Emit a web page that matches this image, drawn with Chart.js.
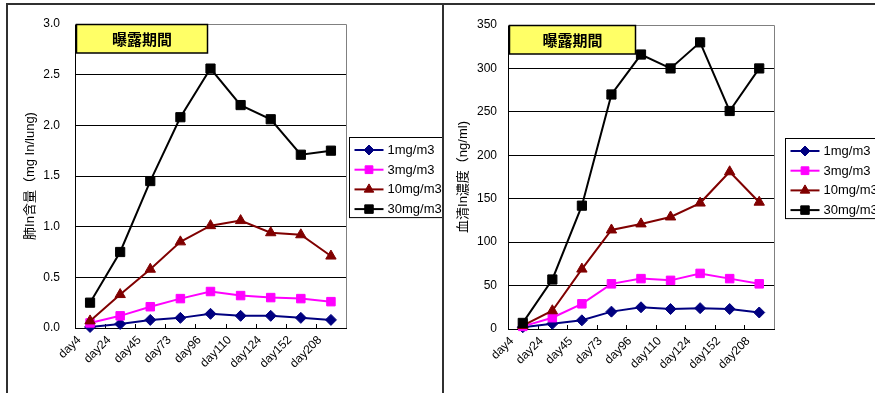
<!DOCTYPE html>
<html>
<head>
<meta charset="utf-8">
<script src="https://cdn.jsdelivr.net/npm/chart.js@4.4.1/dist/chart.umd.min.js"></script>
<style>
  html, body { margin: 0; padding: 0; background: #fff; }
  body { width: 875px; height: 393px; position: relative; overflow: hidden; }
  canvas { position: absolute; top: 0; }
  #lung { left: 0; }
  #serum { left: 443px; }
  .rule { position: absolute; background: #303030; }
</style>
</head>
<body>
<canvas id="lung" width="443" height="393"></canvas>
<canvas id="serum" width="432" height="393"></canvas>
<div class="rule" style="left:6px;top:3px;width:869px;height:2px"></div>
<div class="rule" style="left:6px;top:3px;width:2px;height:390px"></div>
<div class="rule" style="left:442px;top:3px;width:2px;height:390px"></div>

<script>
// Sampling days and exposure groups
const DAYS = ['day4', 'day24', 'day45', 'day73', 'day96', 'day110', 'day124', 'day152', 'day208'];
const GROUPS = ['1mg/m3', '3mg/m3', '10mg/m3', '30mg/m3'];

// Indium content in lung (mg In/lung)
const LUNG_1MG  = [0.01, 0.04, 0.08, 0.10, 0.14, 0.12, 0.12, 0.10, 0.08];
const LUNG_3MG  = [0.05, 0.12, 0.21, 0.29, 0.36, 0.32, 0.30, 0.29, 0.26];
const LUNG_10MG = [0.07, 0.33, 0.58, 0.85, 1.01, 1.06, 0.94, 0.92, 0.71];
const LUNG_30MG = [0.25, 0.75, 1.45, 2.08, 2.56, 2.20, 2.06, 1.71, 1.75];

// Indium concentration in serum (ng/ml)
const SERUM_1MG  = [2, 6, 10, 20, 25, 23, 24, 23, 19];
const SERUM_3MG  = [3, 13, 29, 52, 58, 56, 64, 58, 52];
const SERUM_10MG = [4, 21, 69, 114, 121, 129, 145, 181, 146];
const SERUM_30MG = [7, 57, 142, 270, 316, 300, 330, 251, 300];

const LUNG_TICK_MAX = 3.0, LUNG_TICK_STEP = 0.5;
const SERUM_TICK_MAX = 350, SERUM_TICK_STEP = 50;

const FONT = "'Liberation Sans', Arial, 'Noto Sans CJK JP', sans-serif";
const CJK_FONT = "'Noto Sans CJK JP', 'Liberation Sans', sans-serif";

const STYLES = [
  { color: '#000080', pointStyle: 'rectRot',  pointRadius: 5.5 },
  { color: '#ff00ff', pointStyle: 'rect',     pointRadius: 6 },
  { color: '#800000', pointStyle: 'triangle', pointRadius: 6 },
  { color: '#000000', pointStyle: 'rect',     pointRadius: 6.5 }
];

function makeDatasets(seriesList) {
  return seriesList.map((data, i) => ({
    label: GROUPS[i],
    data: data,
    borderColor: STYLES[i].color,
    backgroundColor: STYLES[i].color,
    pointBackgroundColor: STYLES[i].color,
    pointBorderColor: STYLES[i].color,
    pointBorderWidth: 1,
    pointStyle: STYLES[i].pointStyle,
    pointRadius: STYLES[i].pointRadius,
    borderWidth: 2,
    tension: 0,
    clip: false,
    order: seriesList.length - i
  }));
}

// Gray frame on the top and right of the plot area, plus short inward category ticks
const plotFrame = {
  id: 'plotFrame',
  beforeDatasetsDraw(chart) {
    const { ctx, chartArea: a } = chart;
    const xs = chart.scales.x;
    ctx.save();
    ctx.lineWidth = 1;
    ctx.strokeStyle = '#808080';
    ctx.beginPath();
    ctx.moveTo(Math.round(a.left), Math.round(a.top) + 0.5);
    ctx.lineTo(Math.round(a.right) + 0.5, Math.round(a.top) + 0.5);
    ctx.lineTo(Math.round(a.right) + 0.5, Math.round(a.bottom));
    ctx.stroke();
    ctx.strokeStyle = '#000';
    ctx.beginPath();
    for (let i = 1; i < DAYS.length; i++) {
      const x = Math.round((xs.getPixelForTick(i - 1) + xs.getPixelForTick(i)) / 2) + 0.5;
      ctx.moveTo(x, a.bottom);
      ctx.lineTo(x, a.bottom - 4);
    }
    ctx.stroke();
    ctx.restore();
  }
};

// Yellow caption box in the upper-left corner of the plot
const captionBox = {
  id: 'captionBox',
  afterDatasetsDraw(chart, args, opts) {
    const { ctx, chartArea: a } = chart;
    const x = Math.round(a.left) + 1.5, y = Math.round(a.top) + 0.5;
    ctx.save();
    ctx.fillStyle = '#ffff66';
    ctx.fillRect(x, y, opts.width, opts.height);
    ctx.lineWidth = 1.5;
    ctx.strokeStyle = '#000';
    ctx.strokeRect(x, y, opts.width, opts.height);
    ctx.fillStyle = '#000';
    ctx.font = 'bold 15px ' + CJK_FONT;
    ctx.textAlign = 'center';
    ctx.textBaseline = 'middle';
    ctx.fillText(opts.text, x + opts.width / 2, y + opts.height / 2 + 1);
    ctx.restore();
  }
};

// Boxed legend to the right of the plot, line + marker per group
const boxedLegend = {
  id: 'boxedLegend',
  afterDraw(chart, args, opts) {
    const { ctx, chartArea: a } = chart;
    const x0 = Math.round(a.right + opts.gap) + 0.5;
    const y0 = Math.round(a.top + opts.offsetTop) + 0.5;
    const sets = chart.data.datasets;
    const h = opts.firstRow + (sets.length - 1) * opts.rowHeight + opts.lastGap;
    ctx.save();
    ctx.fillStyle = '#fff';
    ctx.fillRect(x0, y0, opts.width, h);
    ctx.lineWidth = 1;
    ctx.strokeStyle = '#000';
    ctx.strokeRect(x0, y0, opts.width, h);
    sets.forEach((ds, i) => {
      const cy = y0 + opts.firstRow + i * opts.rowHeight;
      ctx.strokeStyle = ds.borderColor;
      ctx.fillStyle = ds.borderColor;
      ctx.lineWidth = 2;
      ctx.beginPath();
      ctx.moveTo(x0 + 5, cy);
      ctx.lineTo(x0 + 34, cy);
      ctx.stroke();
      ctx.lineWidth = 1;
      Chart.helpers.drawPoint(ctx, {
        pointStyle: ds.pointStyle,
        radius: ds.pointRadius - 0.5,
        rotation: 0,
        borderWidth: 1
      }, x0 + 19.5, cy);
      ctx.fillStyle = '#000';
      ctx.font = '13px ' + FONT;
      ctx.textAlign = 'left';
      ctx.textBaseline = 'middle';
      ctx.fillText(ds.label, x0 + 38, cy + 0.5);
    });
    ctx.restore();
  }
};

function buildChart(id, opts) {
  return new Chart(document.getElementById(id), {
    type: 'line',
    data: { labels: DAYS, datasets: makeDatasets(opts.series) },
    options: {
      responsive: false,
      animation: false,
      devicePixelRatio: 1,
      layout: { padding: { left: 0, top: opts.top, right: opts.right, bottom: 0 } },
      plugins: {
        legend: { display: false },
        tooltip: { enabled: false },
        captionBox: { text: '曝露期間', width: opts.captionWidth, height: 28.5 },
        boxedLegend: { gap: opts.legendGap, offsetTop: 112.5, width: 110, firstRow: 12.5, rowHeight: 19.7, lastGap: 8.5 }
      },
      scales: {
        x: {
          type: 'category',
          offset: true,
          grid: { display: false },
          border: { display: true, color: '#000', width: 1 },
          ticks: {
            autoSkip: false, minRotation: 45, maxRotation: 45,
            color: '#000', font: { family: FONT, size: 12 },
            padding: -3, labelOffset: -11
          },
          afterFit(s) { s.height = opts.xHeight; }
        },
        y: {
          min: 0, max: opts.max,
          grid: {
            drawTicks: false, lineWidth: 1,
            color: c => (c.tick && c.tick.value === opts.max) ? '#808080' : '#000'
          },
          border: { display: true, color: '#000', width: 1 },
          ticks: {
            stepSize: opts.step, color: '#000', font: { family: FONT, size: 12 },
            padding: opts.labelGap,
            callback: opts.format
          },
          title: {
            display: true, text: opts.title, color: '#000',
            font: { family: FONT, size: 13 },
            padding: { top: opts.titleCenter - 7.8, bottom: 0 }
          },
          afterFit(s) { s.width = opts.yWidth; }
        }
      }
    },
    plugins: [plotFrame, captionBox, boxedLegend]
  });
}

buildChart('lung', {
  series: [LUNG_1MG, LUNG_3MG, LUNG_10MG, LUNG_30MG],
  max: LUNG_TICK_MAX, step: LUNG_TICK_STEP,
  format: v => Number(v).toFixed(1),
  title: '肺In含量（mg In/lung)',
  top: 24, right: 97, yWidth: 75, xHeight: 65,
  titleCenter: 30, labelGap: 15, captionWidth: 131, legendGap: 3
});

buildChart('serum', {
  series: [SERUM_1MG, SERUM_3MG, SERUM_10MG, SERUM_30MG],
  max: SERUM_TICK_MAX, step: SERUM_TICK_STEP,
  format: v => String(v),
  title: '血清In濃度（ng/ml)',
  top: 25, right: 101, yWidth: 65, xHeight: 64,
  titleCenter: 20, labelGap: 11, captionWidth: 126, legendGap: 11
});
</script>
</body>
</html>
